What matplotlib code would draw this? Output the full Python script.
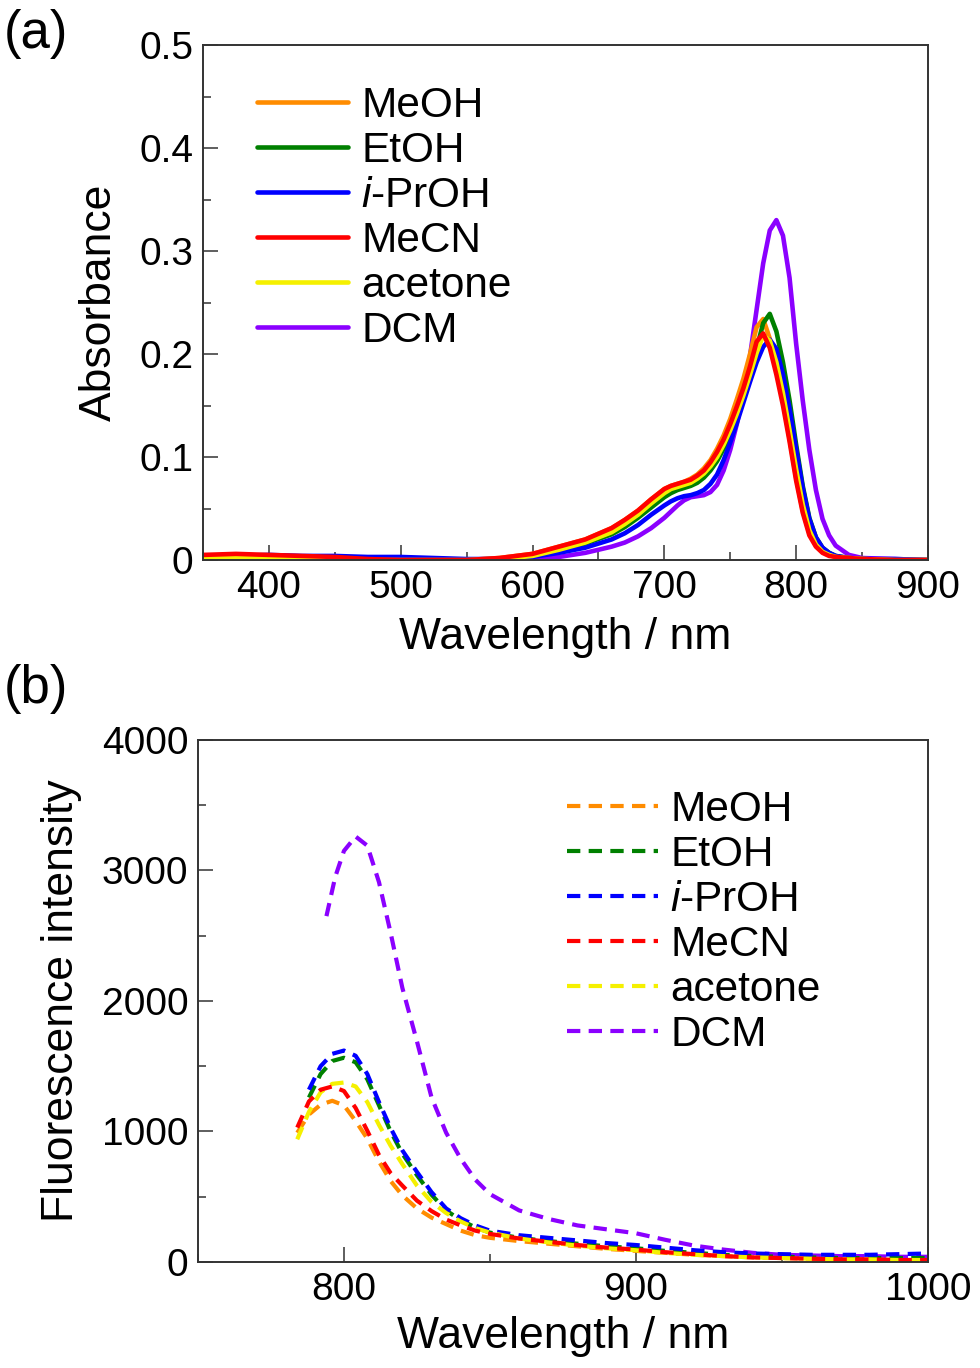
import numpy as np
import matplotlib
matplotlib.use("Agg")
import matplotlib.pyplot as plt
from matplotlib.ticker import MultipleLocator

plt.rcParams['font.family'] = ['Liberation Sans', 'DejaVu Sans']
plt.rcParams['mathtext.fontset'] = 'custom'
plt.rcParams['mathtext.rm'] = 'Liberation Sans'
plt.rcParams['mathtext.it'] = 'Liberation Sans:italic'

solvents = ['MeOH', 'EtOH', r'$\it{i}$-PrOH', 'MeCN', 'acetone', 'DCM']
colors = ['#FF8C00', '#008000', '#0000FF', '#FF0000', '#F5F000', '#8B00FF']
draw_order = [5, 0, 1, 2, 4, 3]

# (a) absorption spectra
wl_abs = [350, 375, 400, 425, 450, 475, 500, 525, 550, 575, 600, 620, 640, 660, 670,
          680, 690, 700, 705, 710, 715, 720, 725, 730, 735, 740, 745, 750, 755, 760,
          765, 770, 775, 780, 785, 790, 795, 800, 805, 810, 815, 820, 825, 830, 840,
          850, 875, 900]
abs_meoh = [.004, .005, .004, .003, .002, .001, 0, 0, 0, .002, .006, .013, .020, .031, .039,
            .048, .059, .069, .072, .074, .076, .079, .083, .089, .097, .108, .121, .137, .156, .176,
            .200, .226, .234, .215, .186, .155, .118, .080, .048, .026, .014, .008, .005, .003, .002,
            .001, 0, 0]
abs_etoh = [.002, .002, .001, .001, .001, 0, 0, 0, 0, .001, .004, .009, .016, .025, .032,
            .041, .051, .061, .065, .068, .070, .072, .075, .080, .087, .096, .108, .122, .139, .158,
            .180, .205, .230, .239, .222, .192, .155, .112, .072, .041, .022, .012, .007, .004, .002,
            .001, 0, 0]
abs_iproh = [.004, .004, .005, .004, .004, .003, .003, .002, .001, .001, .003, .007, .012, .020, .026,
             .034, .044, .053, .057, .060, .062, .063, .065, .068, .074, .083, .097, .114, .133, .153,
             .173, .192, .207, .214, .205, .180, .147, .108, .070, .040, .022, .012, .007, .004, .002,
             .001, .001, 0]
abs_mecn = [.005, .006, .005, .004, .003, .001, 0, 0, 0, .002, .006, .013, .020, .031, .039,
            .048, .059, .069, .072, .074, .076, .078, .082, .087, .095, .105, .117, .132, .149, .167,
            .188, .212, .220, .206, .180, .150, .115, .077, .046, .024, .013, .007, .004, .003, .002,
            .001, 0, 0]
abs_acetone = [.003, .003, .002, .002, .001, 0, 0, 0, 0, .001, .004, .010, .017, .027, .035,
               .044, .055, .065, .069, .071, .073, .075, .079, .084, .091, .100, .112, .126, .142, .160,
               .180, .201, .218, .213, .192, .162, .126, .088, .054, .029, .015, .008, .005, .003, .002,
               .001, 0, 0]
abs_dcm = [.001, .001, .001, .001, .001, 0, 0, 0, 0, 0, .001, .003, .007, .013, .017,
           .023, .031, .041, .047, .053, .058, .061, .062, .063, .066, .073, .087, .107, .132, .162,
           .198, .243, .288, .320, .330, .315, .274, .210, .155, .107, .068, .040, .024, .014, .005,
           .002, .001, 0]
abs_all = [abs_meoh, abs_etoh, abs_iproh, abs_mecn, abs_acetone, abs_dcm]

# (b) fluorescence spectra
wl_fl = [784, 788, 792, 796, 800, 804, 808, 812, 816, 820, 825, 830, 835, 840, 845, 850,
         860, 870, 880, 890, 900, 910, 920, 930, 940, 950, 960, 970, 980, 990, 1000]
fl_meoh = [990, 1130, 1205, 1235, 1200, 1080, 945, 770, 620, 510, 410, 340, 290, 240, 205, 185,
           160, 140, 120, 100, 85, 70, 55, 45, 35, 30, 25, 20, 20, 15, 15]
fl_etoh = [np.nan, 1260, 1440, 1540, 1565, 1530, 1400, 1200, 1000, 830, 665, 515, 395, 320, 265, 225,
           185, 160, 140, 120, 105, 85, 70, 55, 45, 40, 35, 30, 30, 30, 30]
fl_iproh = [np.nan, 1320, 1500, 1595, 1620, 1580, 1440, 1225, 1025, 855, 690, 535, 410, 335, 280, 240,
            205, 185, 165, 145, 130, 110, 90, 75, 65, 60, 55, 55, 55, 60, 65]
fl_mecn = [1030, 1230, 1320, 1345, 1310, 1180, 1005, 820, 680, 585, 470, 390, 325, 280, 240, 215,
           180, 155, 130, 110, 95, 75, 60, 45, 35, 30, 25, 20, 20, 15, 15]
fl_acetone = [940, 1150, 1300, 1365, 1375, 1345, 1225, 1050, 890, 750, 585, 460, 375, 310, 260, 225,
              180, 150, 125, 105, 90, 70, 55, 45, 35, 30, 25, 20, 20, 15, 15]
wl_fl_dcm = [794, 797, 800, 804, 808, 812, 816, 820, 825, 830, 835, 840, 845, 850,
             860, 870, 880, 890, 900, 910, 920, 930, 940, 950, 960, 970, 980, 990, 1000]
fl_dcm = [2650, 2950, 3150, 3260, 3190, 2910, 2520, 2100, 1690, 1260, 990, 790, 630, 520,
          395, 330, 280, 250, 220, 170, 125, 95, 70, 55, 50, 45, 45, 40, 40]
fl_all = [fl_meoh, fl_etoh, fl_iproh, fl_mecn, fl_acetone, fl_dcm]

fig = plt.figure(figsize=(9.8, 13.68), dpi=100)
ax1 = fig.add_axes([0.2071, 0.5906, 0.7398, 0.3765])
ax2 = fig.add_axes([0.2020, 0.0775, 0.7449, 0.3816])

handles = [None] * 6
for i in draw_order:
    handles[i], = ax1.plot(wl_abs, abs_all[i], color=colors[i], lw=3.3,
                           solid_capstyle='round', solid_joinstyle='round')
ax1.legend(handles, solvents, loc='upper left', bbox_to_anchor=(0.075, 0.921),
           frameon=False, fontsize=30.5, handlelength=2.15, handletextpad=0.3,
           labelspacing=0.12, borderaxespad=0, borderpad=0)

handles2 = [None] * 6
for i in draw_order:
    wl = wl_fl_dcm if i == 5 else wl_fl
    handles2[i], = ax2.plot(wl, fl_all[i], color=colors[i], lw=3.0,
                            linestyle=(0, (3.2, 2.0)))
ax2.legend(handles2, solvents, loc='upper left', bbox_to_anchor=(0.505, 0.905),
           frameon=False, fontsize=30.5, handlelength=2.15, handletextpad=0.3,
           labelspacing=0.12, borderaxespad=0, borderpad=0)

ax1.set_xlim(350, 900)
ax1.set_ylim(0, 0.5)
ax1.xaxis.set_major_locator(MultipleLocator(100))
ax1.xaxis.set_minor_locator(MultipleLocator(50))
ax1.yaxis.set_minor_locator(MultipleLocator(0.05))
ax1.set_yticks([0, 0.1, 0.2, 0.3, 0.4, 0.5])
ax1.set_yticklabels(['0', '0.1', '0.2', '0.3', '0.4', '0.5'])
ax1.set_xlabel('Wavelength / nm', fontsize=32, labelpad=8)
ax1.set_ylabel('Absorbance', fontsize=32, labelpad=14)

ax2.set_xlim(750, 1000)
ax2.set_ylim(0, 4000)
ax2.xaxis.set_major_locator(MultipleLocator(100))
ax2.xaxis.set_minor_locator(MultipleLocator(50))
ax2.yaxis.set_major_locator(MultipleLocator(1000))
ax2.yaxis.set_minor_locator(MultipleLocator(500))
ax2.set_xlabel('Wavelength / nm', fontsize=32, labelpad=6)
ax2.set_ylabel('Fluorescence intensity', fontsize=32, labelpad=14)

for ax in (ax1, ax2):
    for s in ax.spines.values():
        s.set_color('#333333')
        s.set_linewidth(1.4)
    ax.tick_params(which='both', direction='in', top=False, right=False,
                   color='#333333', labelsize=28, pad=7)
    ax.tick_params(which='major', length=11, width=1.1)
    ax.tick_params(which='minor', length=6, width=1.1)

fig.text(0.004, 0.975, '(a)', fontsize=38, va='center', ha='left')
fig.text(0.004, 0.496, '(b)', fontsize=38, va='center', ha='left')

fig.savefig('out.png', dpi=100)
